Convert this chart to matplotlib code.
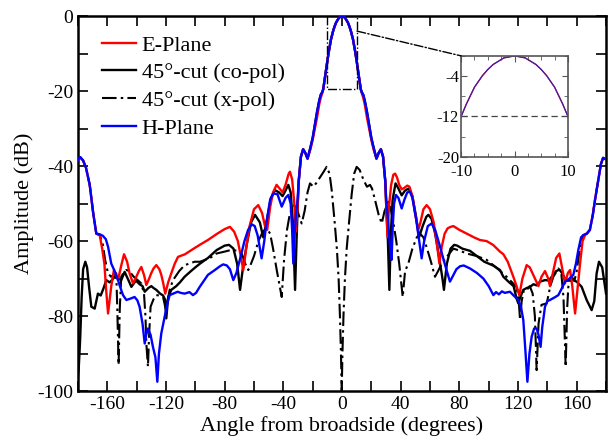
import numpy as np
import matplotlib
matplotlib.use("Agg")
from matplotlib import pyplot as plt
from matplotlib.patches import ConnectionPatch
from matplotlib.ticker import MultipleLocator, FuncFormatter, FixedLocator

plt.rcParams['font.family'] = 'serif'
plt.rcParams['font.serif'] = ['Liberation Serif', 'DejaVu Serif']
plt.rcParams['axes.unicode_minus'] = False

# main beam (shared by the co-pol cuts)
beam_angle = [-29.5, -28, -26.5, -25, -23.5, -21.5, -20, -18.5, -17, -15.5, -14.5, -13.5, -12.8, -11.5,
              -10, -9, -7.5, -6, -5, -4, -2, 0, 2, 4, 5, 6, 7.5, 9, 10,
              11.5, 12.8, 13.5, 14.5, 15.5, 17, 18.5, 20, 21.5, 23.5, 25, 26.5, 28, 29.5]
beam_h = [-44, -37.5, -35.5, -36.5, -38, -35, -32.5, -29, -25.5, -22.5, -21, -20.3, -19.5, -16,
          -12, -9.5, -6.2, -3.9, -2.7, -1.7, -0.4, 0, -0.4, -1.7, -2.7, -3.9, -6.2, -9.5, -12,
          -16, -19.5, -20.3, -21, -22.5, -25.5, -29, -32.5, -35, -38, -36.5, -35.5, -37.5, -44]
beam_e = [-44, -37.5, -35.5, -36.5, -38, -35.5, -33, -30, -27, -23.5, -21.8, -20.6, -19.6, -16,
          -12, -9.5, -6.2, -3.9, -2.7, -1.7, -0.4, 0, -0.4, -1.7, -2.7, -3.9, -6.2, -9.5, -12,
          -16, -19.6, -20.6, -21.8, -23.5, -27, -30, -33, -35.5, -38, -36.5, -35.5, -37.5, -44]

# E-plane sidelobes
e_left_angle = [-180, -178.5, -176.5, -174.5, -172, -169.6, -167.5, -165.2, -163.5, -162, -160.8, -159.5,
                -158.2, -157.3, -155.5, -154, -152.7, -150.5, -148.6, -146.5, -144.8, -142.5, -140.2,
                -138.5, -136.8, -135, -133.4, -131.5, -130, -128.5, -126.6, -124.5, -123.2, -122, -120.5,
                -118.5, -116.4, -114, -111.8, -107, -102.7, -97, -91.4, -85, -80, -76.4, -73.5, -71,
                -69.5, -67.3, -65, -63, -60, -57.1, -54.5, -52.5, -51, -49, -47, -44.6, -42.5, -40.5,
                -38.5, -36.5, -35.5, -34, -32.5, -31.5, -30.5]
e_left_db = [-38.3, -37.7, -38.5, -40.5, -45, -52.6, -58, -58.4, -62, -66, -73, -79.3,
             -75, -72, -67.7, -69, -70.4, -66.5, -63.5, -65.5, -68.6, -71.3, -69.5,
             -68, -66.9, -69, -71.7, -70, -68.5, -67.3, -66.4, -67.5, -69, -71, -74,
             -71, -68.6, -66, -64.2, -63.5, -62.4, -61, -59.7, -58, -56.8, -56.2, -57.5, -60,
             -63, -67.7, -61, -56, -51.5, -50.4, -52.5, -56, -57, -51, -47, -45, -46, -47,
             -45, -42.2, -41.5, -43.5, -50, -57.5, -52]
e_right_angle = [30.3, 31, 32, 33.5, 35, 36.2, 37.5, 39, 40.7, 42.5, 44.5, 46, 48, 50, 52, 53.5, 55.5,
                 57.7, 60, 62.5, 64.5, 66.4, 68, 70, 72, 74, 76, 80, 85, 90, 94, 98.6, 103, 107.7,
                 110, 113, 116.8, 119, 120.9, 123, 125.9, 128, 130.4, 133.9, 136, 138.4, 140.6, 141.8,
                 144, 146, 148.2, 150, 152, 154, 155.5, 157, 158.9, 160.5, 162.3, 164, 165.7, 169,
                 171, 172.5, 174.7, 176.5, 178, 180]
e_right_db = [-52, -58.9, -51, -45, -42.3, -42, -43, -45, -46.2, -45.8, -45.2, -45.5, -48, -53, -57, -55, -51.5,
              -50.4, -51.5, -55, -60, -66, -61.5, -58, -56.6, -56.2, -56, -57, -58, -59, -59.7, -60, -61, -62.8,
              -63.5, -65.5, -69.5, -72, -74.4, -70, -66.4, -67, -69, -72, -69.5, -68, -70, -72,
              -68, -64.5, -63.3, -67, -71.3, -68.5, -67.7, -72, -79.3, -73, -66, -60, -58.4, -57,
              -53, -49, -43.7, -39.5, -37.8, -38.2]

# 45-deg cut co-pol sidelobes
c_left_angle = [-180, -179.5, -178.5, -177.5, -176.5, -175, -173.8, -172.5, -170.9, -168.6, -166.4, -164.5,
                -162.5, -160.7, -158.5, -157, -155, -152.5, -150.5, -148.2, -145.5, -143.6, -140.5, -138,
                -136, -134.5, -132, -130, -128.5, -126.6, -124, -122, -120.5, -119.8, -118.5, -116.4, -113,
                -110.5, -107.3, -103, -100, -96.8, -91.4, -85.5, -80, -77, -74, -71.5, -69.5, -67.5, -65,
                -62, -59.3, -56, -53.7, -51.5, -48.5, -45.7, -43, -40.5, -38.5, -36.6, -35, -33.5, -32,
                -31, -30.3]
c_left_db = [-96, -94, -86, -75, -67.5, -65.5, -67, -72, -77.5, -78, -74, -74.5,
             -72.5, -70.4, -71, -70.5, -69.5, -70, -70.4, -68.2, -70.5, -72.2, -70.5, -71.5,
             -72, -73.5, -72.5, -72, -72.5, -73, -74, -74.5, -75.7, -80.6, -75, -73, -72,
             -71, -69.5, -68, -67, -66, -64.5, -62.4, -61.2, -61, -62, -66, -73, -67, -61,
             -55, -53, -55, -59, -55, -48.5, -46.4, -47, -48, -46.5, -45, -47, -55, -73,
             -60, -52]
c_right_angle = [30.3, 31.3, 32.3, 33.3, 34.5, 36.5, 38.5, 40.7, 43, 45.5, 48, 50.5, 52.5, 55, 57.5, 58.9,
                 61, 63.5, 66.5, 68.5, 69.5, 71.5, 74, 76.5, 78.5, 82, 87.3, 92, 97, 103, 107.7, 110,
                 114, 117, 119, 120.2, 121.5, 123.6, 126, 128.2, 130.5, 132.7, 135, 138.4, 141, 143, 146,
                 148.2, 150, 152, 154, 156, 158, 160, 163.4, 166.8, 170.2, 172, 173.6, 175.2, 177.4,
                 179.3, 180]
c_right_db = [-52, -60, -73, -58, -49, -44.6, -46, -47.8, -46.5, -46, -48, -53.5, -59, -56, -53.5, -53,
              -54, -58, -65, -70, -73, -66, -62, -61, -61.2, -62, -62.6, -64, -65.5, -66.5, -67.7, -69.5,
              -71, -72, -75.3, -76.6, -75, -73, -72.5, -72.2, -71.5, -71.8, -70.8, -70.4, -70.5, -69.5, -68,
              -67.6, -68.5, -70, -70.6, -70, -70.5, -70.8, -72.2, -75.7, -78.4, -76, -68.6, -65.5, -67,
              -72.2, -74]

# 45-deg cut cross-pol (full sweep)
x_angle = [-180, -178.5, -176.5, -174.5, -172, -169.6, -167.5, -165, -163, -161.5, -159.5, -157.5, -155.5,
           -153.9, -153.2, -152.3, -151.5, -150.5, -149, -147, -145, -142, -139, -136.8, -135, -134,
           -133.4, -132.3, -131.5, -130.5, -128.5, -126.6, -124.5, -122, -120.8, -119.8, -118.5, -117.5,
           -115.2, -111, -107.3, -104, -100.5, -96.8, -90, -85.5, -80, -76, -72, -68.4, -66, -63.9, -62,
           -60, -57, -54, -51.4, -49, -47, -44.5, -42.5, -41.1, -39.5, -37.5, -35.5, -33, -31, -29.5,
           -27.5, -25.5, -23.5, -21.8, -19.5, -17.5, -15, -12.5, -10.5, -8.5, -7, -5, -3.5, -2.3, -1.4,
           -0.7, -0.2, 0.3, 1, 2, 3.2, 4.8, 6.6, 8.3, 10, 12, 14.5, 17, 19.1, 20.5, 22.5, 25, 27.1, 29,
           31.6, 33, 35, 37, 39, 41.4, 43, 45.2, 48, 51, 53.2, 55.5, 58, 61, 63.4, 65.5, 68, 71.4, 75.9,
           80, 85, 92, 98.6, 105, 112.2, 116, 119, 120.5, 121.4, 122.5, 124, 126, 128, 130, 131.5,
           132.7, 134, 136, 139.6, 142, 144.1, 147.5, 149.5, 151, 152.5, 153.5, 154.3, 156.5, 158.5,
           160, 162.3, 164.5, 167, 169, 171, 172.5, 174.7, 176.5, 178, 180]
x_db = [-38.3, -37.6, -38.5, -40.5, -45, -52.6, -58, -58.5, -61, -65, -68.6, -69.5, -69,
        -68.6, -78, -93, -78, -69.5, -68.5, -67.7, -68, -69.5, -70.5, -71.3, -74, -80,
        -87.3, -93.5, -85, -77.5, -75.5, -74.4, -74.5, -74.9, -77, -79, -75, -73,
        -70.4, -68, -66.4, -66, -65.5, -65.5, -64.5, -63.3, -62.8, -62.4, -62.5, -63.3, -66, -67.7, -66,
        -64, -60, -57.5, -56.6, -58, -62, -67.7, -72, -74.9, -65, -57, -52.6, -50.5, -51, -53,
        -55.3, -52, -47, -44.6, -45.5, -44.5, -43, -41.5, -40.2, -42, -46.5, -55, -62, -70, -80,
        -90, -100, -90, -80, -70, -62, -55, -47.5, -42, -40.2, -41, -43.5, -45.5, -45, -46, -49, -53, -55.3, -52,
        -49.5, -51, -55, -60, -66, -74.9, -68, -66, -62, -59, -58, -59, -62, -66, -69.5, -68, -66, -64.2, -62,
        -62.5, -63.3, -64, -65, -67, -69.5, -71, -72.2, -76, -81, -76, -73, -73, -72, -74, -80,
        -94.4, -82, -77, -76.6, -72, -69.5, -67.3, -68.5, -75, -93.5, -78, -72.2, -69.5, -70.5,
        -68, -61.5, -58.4, -58, -57, -53, -49, -43.7, -39.5, -37.8, -38.2]

# H-plane sidelobes
h_left_angle = [-180, -178.5, -176.5, -174.5, -172, -169.6, -167.5, -165, -163, -161, -159.5, -157.3, -155,
                -152.7, -151, -149.3, -147, -144, -141.4, -139.5, -138, -136, -134.5, -133.5, -132.3,
                -130.5, -128.9, -127.2, -125.9, -124.8, -123.2, -120.5, -119, -117.5, -115, -112, -110,
                -107.3, -104, -101.6, -99.5, -97, -94, -91.4, -87, -83.2, -81, -78.5, -76.4, -74.1, -72,
                -69, -66.5, -64, -61.6, -59.5, -57.5, -54.8, -53, -51.5, -49, -46.8, -44, -41.1, -38.5,
                -36.6, -35, -34, -33.2, -32.3, -31.2, -30.3]
h_left_db = [-38.3, -37.6, -38.5, -40.5, -45, -52.6, -58, -58.2, -58.6, -59.5, -61.5, -66, -68,
             -70.4, -72.5, -74.4, -75.7, -75.3, -74.9, -75.8, -77.5, -82, -87.3, -85, -83.3,
             -85, -88.2, -91, -97.5, -90, -84.6, -79.3, -76.5, -74.4, -74, -73.5, -73.8,
             -74, -73.6, -74.4, -73.8, -72.2, -70.5, -69, -67.8, -66.7, -66.2, -66.5, -67.5, -70.4, -68.5,
             -64, -60, -57, -55.5, -56, -58.5, -64.6, -60, -55, -49, -47.3, -47.5, -50.8, -48.5,
             -47.7, -50, -57, -66, -58, -52, -49]
h_right_angle = [30.3, 31.5, 33, 33.8, 34.6, 35.5, 36.8, 38.5, 40.7, 42.5, 44.5, 46.3, 48, 50.5, 52.5, 54.3,
                 56, 58.5, 61.1, 63.5, 66.5, 70, 73.6, 76, 78, 80.5, 83, 87.3, 92, 96.4, 100, 103.2, 105,
                 107, 109, 111, 114.5, 117, 120.2, 122, 123.6, 125, 126.4, 127.8, 129.3, 131, 132.7, 134,
                 135.4, 136.5, 138.4, 140, 141.8, 145, 147.5, 150, 152, 155, 157.7, 159.5, 161.1, 163,
                 164.5, 167, 169, 171, 172.5, 174.7, 176.5, 178, 180]
h_right_db = [-50, -55, -63, -65, -56, -50, -47.7, -48.5, -51.3, -49, -47, -46.8, -48.5, -54, -59.5, -64.6,
              -60, -56, -55.3, -57, -61, -66, -70.8, -69, -67.5, -66.7, -66.5, -67.3, -68.5, -70, -72, -74.4, -73.6,
              -74.2, -73.4, -73.8, -73.5, -74.5, -75.7, -77.5, -81, -89, -97.5, -90, -85.5, -83.3, -83.3, -85,
              -88.2, -83, -77.5, -76, -75.7, -75, -74.4, -72.5, -70.8, -70, -69, -66, -62.4, -59,
              -58.4, -58, -57, -53, -49, -43.7, -39.5, -37.8, -38.2]

e_angle = e_left_angle + beam_angle + e_right_angle
e_db = e_left_db + beam_e + e_right_db
c_angle = c_left_angle + beam_angle + c_right_angle
c_db = c_left_db + beam_h + c_right_db
h_angle = h_left_angle + beam_angle + h_right_angle
h_db = h_left_db + beam_h + h_right_db

zoom_x = (-10.5, 10.2)
zoom_y = (-19.5, 0)

fig = plt.figure(figsize=(6.14, 4.47), dpi=100)
ax = fig.add_axes([0.127, 0.125, 0.860, 0.839])

ax.plot(e_angle, e_db, color='#ff0000', lw=1.7, label='E-Plane', zorder=3)
ax.plot(c_angle, c_db, color='black', lw=1.7, label='45°-cut (co-pol)', zorder=2)
ax.plot(x_angle, x_db, color='black', lw=1.5, ls=(0, (7, 2, 1.2, 2)), label='45°-cut (x-pol)', zorder=1)
ax.plot(h_angle, h_db, color='#0000ff', lw=1.7, label='H-Plane', zorder=4)

ax.set_xlim(-180, 180)
ax.set_ylim(-100, 0)
ax.xaxis.set_major_locator(MultipleLocator(20))
ax.xaxis.set_major_formatter(FuncFormatter(lambda v, p: '%d' % v if round(v) % 40 == 0 and abs(v) < 180 else ''))
ax.yaxis.set_major_locator(MultipleLocator(10))
ax.yaxis.set_major_formatter(FuncFormatter(lambda v, p: '%d' % v if round(v) % 20 == 0 else ''))
ax.tick_params(direction='in', length=7, width=1.2, top=True, right=True, labelsize=14)
for s in ax.spines.values():
    s.set_linewidth(1.8)
ax.set_xlabel('Angle from broadside (degrees)', fontsize=16, labelpad=2)
ax.set_ylabel('Amplitude (dB)', fontsize=16, labelpad=2)

ax.legend(loc='upper left', bbox_to_anchor=(0.02, 0.985), frameon=False, fontsize=16,
          handlelength=1.55, handletextpad=0.25, labelspacing=0.32, borderaxespad=0.2)

# zoom box on the main beam
ax.plot([zoom_x[0], zoom_x[0], zoom_x[1], zoom_x[1]], [zoom_y[1], zoom_y[0], zoom_y[0], zoom_y[1]],
        color='black', lw=1, ls='-.', zorder=5)

axins = fig.add_axes([0.751, 0.649, 0.174, 0.226])
axins.plot(e_angle, e_db, color='#ff0000', lw=0.9)
axins.plot(h_angle, h_db, color='#3a1fb0', lw=0.9)
axins.axhline(-12, color='#444444', lw=0.9, ls=(0, (5, 3)))
axins.set_xlim(-10, 10)
axins.set_ylim(-20, 0)
axins.xaxis.set_major_locator(FixedLocator([-10, 0, 10]))
axins.xaxis.set_minor_locator(MultipleLocator(2.5))
axins.yaxis.set_major_locator(FixedLocator([-20, -12, -4]))
axins.yaxis.set_minor_locator(FixedLocator([-16, -8, 0]))
axins.tick_params(which='both', direction='in', top=True, right=True, labelsize=12, color='#555555')
axins.tick_params(axis='x', pad=5)
axins.tick_params(axis='y', pad=1.5)
axins.tick_params(which='major', length=4)
axins.tick_params(which='minor', length=3)
for s in axins.spines.values():
    s.set_color('#555555')
    s.set_linewidth(1.2)

con = ConnectionPatch(xyA=(zoom_x[1], -4), coordsA=ax.transData, xyB=(0, 1), coordsB=axins.transAxes,
                      color='black', lw=1, ls='-.')
fig.add_artist(con)

fig.savefig('out.png', dpi=100)
